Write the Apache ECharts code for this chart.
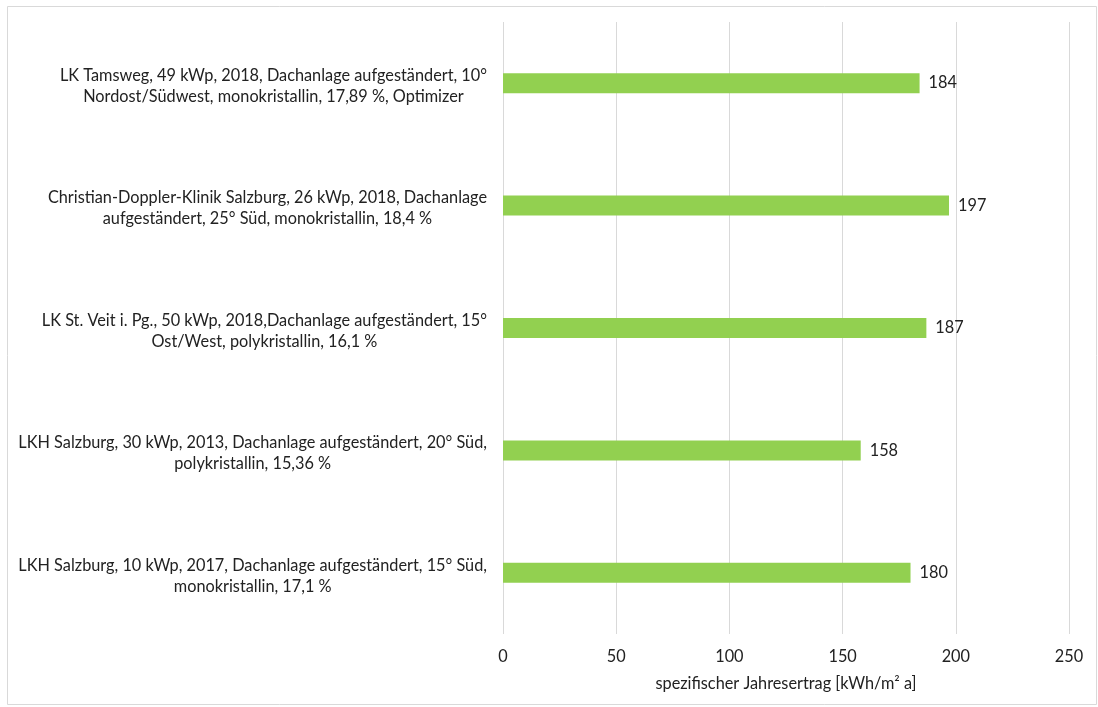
<!DOCTYPE html>
<html><head><meta charset="utf-8">
<script src="https://cdn.jsdelivr.net/npm/echarts@6/dist/echarts.min.js"></script>
<style>html,body{margin:0;padding:0;background:#fff}#c{width:1098px;height:707px}</style>
</head><body><div id="c"></div>
<script>
const categories = [
  ["LK Tamsweg, 49 kWp, 2018, Dachanlage aufgeständert, 10°", "Nordost/Südwest, monokristallin, 17,89 %, Optimizer"],
  ["Christian-Doppler-Klinik Salzburg, 26 kWp, 2018, Dachanlage", "aufgeständert, 25° Süd, monokristallin, 18,4 %"],
  ["LK St. Veit i. Pg., 50 kWp, 2018,Dachanlage aufgeständert, 15°", "Ost/West, polykristallin, 16,1 %"],
  ["LKH Salzburg, 30 kWp, 2013, Dachanlage aufgeständert, 20° Süd,", "polykristallin, 15,36 %"],
  ["LKH Salzburg, 10 kWp, 2017, Dachanlage aufgeständert, 15° Süd,", "monokristallin, 17,1 %"]
];
const values = [184, 197, 187, 158, 180];
const xTicks = [0, 50, 100, 150, 200, 250];
const axisName = "spezifischer Jahresertrag [kWh/m² a]";

const FONT = 'Lato';
const FS = 16.3;
const chart = echarts.init(document.getElementById('c'), null, {renderer: 'canvas'});
chart.setOption({
  animation: false,
  backgroundColor: '#fff',
  graphic: [{type: 'rect', shape: {x: 7.5, y: 6.5, width: 1089, height: 698}, style: {fill: 'none', stroke: '#d9d9d9', lineWidth: 1}, silent: true}],
  grid: {left: 503, right: 29, top: 22, bottom: 73, containLabel: false},
  xAxis: {
    type: 'value', min: xTicks[0], max: xTicks[xTicks.length - 1], interval: 50,
    name: axisName, nameLocation: 'middle', nameGap: 42,
    nameTextStyle: {fontFamily: FONT, fontSize: FS, color: '#222'},
    axisLine: {show: false}, axisTick: {show: false},
    axisLabel: {fontFamily: FONT, fontSize: FS, color: '#222', margin: 15},
    splitLine: {show: true, lineStyle: {color: '#d9d9d9', width: 1}}
  },
  yAxis: {
    type: 'category', inverse: true,
    data: categories.map(c => c.join('\n')),
    axisLine: {show: false}, axisTick: {show: false},
    axisLabel: {
      margin: 16, align: 'right', padding: [6, 0, 0, 0],
      formatter: v => v.split('\n').map(l => '{a|' + l + '}').join('\n'),
      rich: {a: {align: 'center', fontFamily: FONT, fontSize: FS, lineHeight: 21, color: '#222'}}
    }
  },
  series: [{
    type: 'bar', data: values, barWidth: 20,
    itemStyle: {color: '#92D050'},
    label: {show: true, position: 'right', distance: 9, fontFamily: FONT, fontSize: FS, color: '#222'}
  }]
});
</script></body></html>
